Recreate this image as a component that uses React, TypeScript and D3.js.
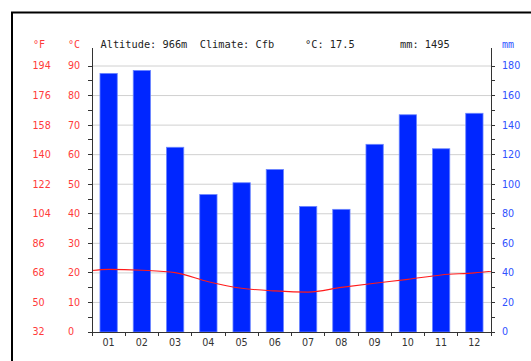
import React from "react";
import * as d3 from "d3";

// Monthly climate normals
const months = ["01", "02", "03", "04", "05", "06", "07", "08", "09", "10", "11", "12"];
const precipitationMm = [175, 177, 125, 93, 101, 110, 85, 83, 127, 147, 124, 148];
const temperatureC = [21.2, 20.9, 20.1, 17.0, 14.8, 13.9, 13.5, 15.1, 16.5, 17.8, 19.3, 20.0];
const celsiusTicks = [0, 10, 20, 30, 40, 50, 60, 70, 80, 90];
const mmTicks = [0, 20, 40, 60, 80, 100, 120, 140, 160, 180];
const headerText = ["Altitude: 966m", "Climate: Cfb", "°C: 17.5", "mm: 1495"];

const W = 531;
const H = 361;
const plot = { left: 92, right: 491, top: 66, bottom: 332, axisTop: 48 };

const RED = "#ff3a3a";
const BLUE = "#2f52ff";
const MONO = "'DejaVu Sans Mono', monospace";
const SANS = "'DejaVu Sans', sans-serif";

export default function App() {
  const x = d3.scaleBand<string>().domain(months).range([plot.left, plot.right]).padding(0);
  const step = x.step();
  const yC = d3.scaleLinear().domain([0, 90]).range([plot.bottom, plot.top]);
  const yMm = d3.scaleLinear().domain([0, 180]).range([plot.bottom, plot.top]);
  const barW = step * 0.52;
  const center = (i: number) => plot.left + step * (i + 0.5);

  // wrap the year so the curve runs continuously through the plot edges
  const loop: [number, number][] = [
    [center(-1), temperatureC[11]],
    ...temperatureC.map((t, i) => [center(i), t] as [number, number]),
    [center(12), temperatureC[0]],
  ];
  const line = d3
    .line<[number, number]>()
    .x((d) => d[0])
    .y((d) => yC(d[1]))
    .curve(d3.curveMonotoneX);

  const minorC = d3.range(0, 91, 5);
  const minorMm = d3.range(0, 181, 10);
  const boundaries = d3.range(0, 13).map((i) => plot.left + step * i);

  return (
    <svg
      width={W}
      height={H}
      style={{ position: "absolute", left: 0, top: 0, background: "#fff" }}
    >
      <defs>
        <clipPath id="plotClip">
          <rect x={plot.left} y={plot.axisTop} width={plot.right - plot.left} height={plot.bottom - plot.axisTop} />
        </clipPath>
      </defs>
      <rect x={12} y={12.5} width={W + 20} height={H + 20} fill="none" stroke="#000" strokeWidth={2} />

      {/* grid */}
      {celsiusTicks.slice(1).map((c) => (
        <line key={"g" + c} x1={plot.left} x2={plot.right} y1={yC(c)} y2={yC(c)} stroke="#d0d0d0" strokeWidth={1} />
      ))}

      {/* precipitation bars */}
      {precipitationMm.map((v, i) => (
        <rect
          key={"b" + i}
          x={(x(months[i]) as number) + (step - barW) / 2}
          y={yMm(v)}
          width={barW}
          height={plot.bottom - yMm(v)}
          fill="#0026ff"
          stroke="#6b85ff"
          strokeWidth={0.8}
        />
      ))}

      {/* temperature curve */}
      <path d={line(loop) || ""} fill="none" stroke="#ff1a1a" strokeWidth={1.1} clipPath="url(#plotClip)" />

      {/* axes */}
      <g stroke="#333" strokeWidth={1} shapeRendering="crispEdges">
        <line x1={plot.left} x2={plot.left} y1={plot.axisTop} y2={plot.bottom} />
        <line x1={plot.right} x2={plot.right} y1={plot.axisTop} y2={plot.bottom} />
        <line x1={plot.left} x2={plot.right} y1={plot.bottom} y2={plot.bottom} />
        {minorC.map((c) => (
          <line key={"tl" + c} x1={plot.left - 4} x2={plot.left} y1={yC(c)} y2={yC(c)} />
        ))}
        {minorMm.map((m) => (
          <line key={"tr" + m} x1={plot.right} x2={plot.right + 4} y1={yMm(m)} y2={yMm(m)} />
        ))}
        {boundaries.map((bx, i) => (
          <line key={"tx" + i} x1={bx} x2={bx} y1={plot.bottom} y2={plot.bottom + 4} />
        ))}
      </g>

      {/* left labels */}
      <text x={33} y={47.5} fill={RED} fontFamily={MONO} fontSize={10}>°F</text>
      <text x={68} y={47.5} fill={RED} fontFamily={MONO} fontSize={10}>°C</text>
      {celsiusTicks.map((c) => (
        <g key={"lc" + c} fill={RED} fontFamily={SANS} fontSize={9.6}>
          <text x={32.5} y={yC(c)} dy="0.36em">{Math.round(c * 1.8 + 32)}</text>
          <text x={68} y={yC(c)} dy="0.36em">{c}</text>
        </g>
      ))}

      {/* right labels */}
      <text x={502} y={47.5} fill={BLUE} fontFamily={MONO} fontSize={10}>mm</text>
      {mmTicks.map((m) => (
        <text key={"rm" + m} x={502} y={yMm(m)} dy="0.36em" fill={BLUE} fontFamily={SANS} fontSize={9.6}>
          {m}
        </text>
      ))}

      {/* month labels */}
      {months.map((m, i) => (
        <text key={"m" + m} x={center(i)} y={345.5} textAnchor="middle" fill="#333" fontFamily={SANS} fontSize={9.6}>
          {m}
        </text>
      ))}

      {/* header */}
      <g fill="#222" fontFamily={MONO} fontSize={10.3} style={{ whiteSpace: "pre" }}>
        <text x={100.5} y={48}>{headerText[0]}</text>
        <text x={100.5 + 16 * 6.2}  y={48}>{headerText[1]}</text>
        <text x={305} y={48}>{headerText[2]}</text>
        <text x={400} y={48}>{headerText[3]}</text>
      </g>
    </svg>
  );
}
